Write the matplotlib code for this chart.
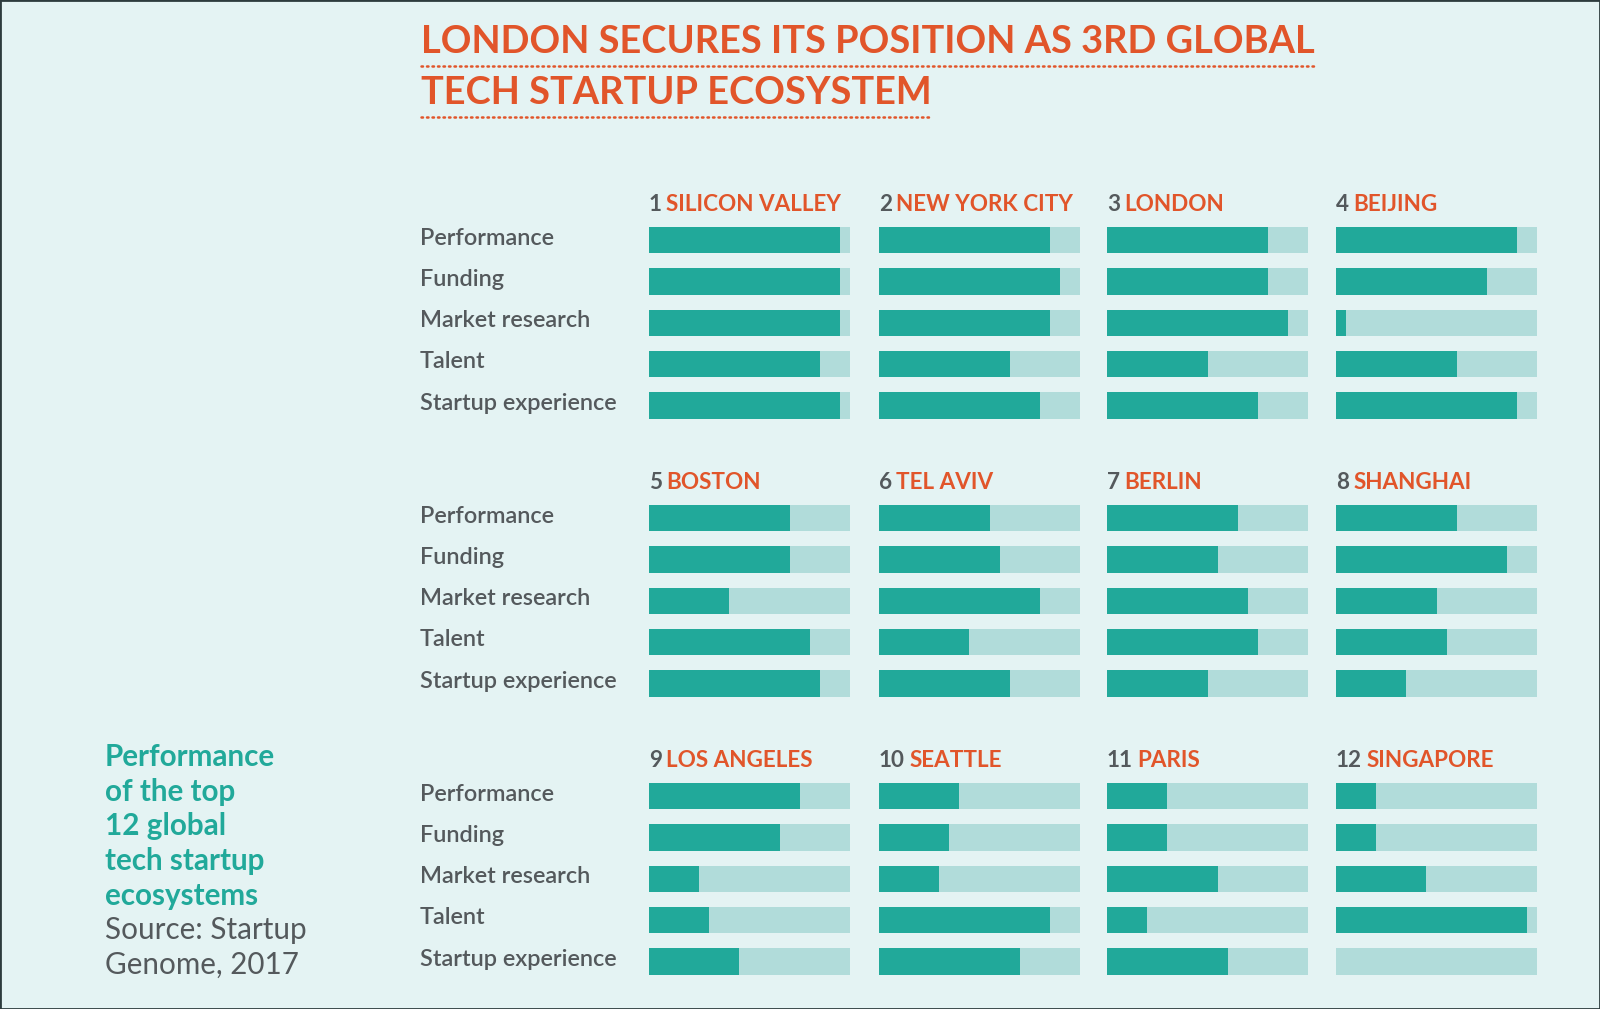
import matplotlib as mpl
mpl.use('Agg')
import matplotlib.pyplot as plt
import matplotlib.transforms as mtransforms
from matplotlib.patches import Rectangle

# data (scores out of 10)
metrics = ['Performance', 'Funding', 'Market research', 'Talent', 'Startup experience']
cities = ['SILICON VALLEY', 'NEW YORK CITY', 'LONDON', 'BEIJING',
          'BOSTON', 'TEL AVIV', 'BERLIN', 'SHANGHAI',
          'LOS ANGELES', 'SEATTLE', 'PARIS', 'SINGAPORE']
silicon_valley = [9.5, 9.5, 9.5, 8.5, 9.5]
new_york_city = [8.5, 9.0, 8.5, 6.5, 8.0]
london = [8.0, 8.0, 9.0, 5.0, 7.5]
beijing = [9.0, 7.5, 0.5, 6.0, 9.0]
boston = [7.0, 7.0, 4.0, 8.0, 8.5]
tel_aviv = [5.5, 6.0, 8.0, 4.5, 6.5]
berlin = [6.5, 5.5, 7.0, 7.5, 5.0]
shanghai = [6.0, 8.5, 5.0, 5.5, 3.5]
los_angeles = [7.5, 6.5, 2.5, 3.0, 4.5]
seattle = [4.0, 3.5, 3.0, 8.5, 7.0]
paris = [3.0, 3.0, 5.5, 2.0, 6.0]
singapore = [2.0, 2.0, 4.5, 9.5, 0.0]
scores = [silicon_valley, new_york_city, london, beijing, boston, tel_aviv,
          berlin, shanghai, los_angeles, seattle, paris, singapore]
max_score = 10

BG = '#e4f3f3'
TEAL = '#21a99a'
LIGHT = '#b1dcda'
ORANGE = '#e1552a'
GRAY = '#54595c'
FONT = 'Lato'

W, H = 1600, 1009
fig = plt.figure(figsize=(W / 100, H / 100), dpi=100, facecolor=BG)

def fx(px):
    return px / W

def fy(py):
    return 1 - py / H

# title
title_lines = ['LONDON SECURES ITS POSITION AS 3RD GLOBAL', 'TECH STARTUP ECOSYSTEM']
title_y = [42, 93]
renderer = fig.canvas.get_renderer()
for line, ty in zip(title_lines, title_y):
    t = fig.text(fx(421), fy(ty), line, color=ORANGE, fontsize=27.4, fontweight='bold',
                 family=FONT, va='center', ha='left')
    bb = t.get_window_extent(renderer)
    x0, x1 = bb.x0 / W, bb.x1 / W
    fig.add_artist(plt.Line2D([x0, x1], [fy(ty + 24)] * 2, color=ORANGE, lw=1.8,
                              linestyle=(0, (0.6, 1.6)), dash_capstyle='round',
                              transform=fig.transFigure))

# panels
col_x = [649, 879, 1107, 1336]
col_w = 201
row_top = [219.5, 497.5, 775.5]
row_pitch = 41.3
bar_h = 0.64
ypos = list(range(len(metrics)))

for i, (city, vals) in enumerate(zip(cities, scores)):
    r, c = divmod(i, 4)
    ax = fig.add_axes([fx(col_x[c]), fy(row_top[r] + 5 * row_pitch),
                       fx(col_w), 5 * row_pitch / H])
    ax.set_facecolor('none')
    ax.barh(ypos, [max_score] * len(vals), height=bar_h, color=LIGHT, lw=0)
    ax.barh(ypos, vals, height=bar_h, color=TEAL, lw=0)
    ax.set_xlim(0, max_score)
    ax.set_ylim(4.5, -0.5)
    ax.axis('off')
    num = ax.annotate(str(i + 1), xy=(0, 1), xycoords='axes fraction',
                      xytext=(0, 11), textcoords='offset points', ha='left', va='center',
                      color=GRAY, fontsize=16.2, fontweight='bold', family=FONT)
    ax.annotate(city, xy=(1, 0.5), xycoords=num, xytext=(3, 0), textcoords='offset points',
                ha='left', va='center', color=ORANGE, fontsize=16.2, fontweight='bold',
                family=FONT)
    if c == 0:
        tr = mtransforms.blended_transform_factory(fig.transFigure, ax.transData)
        for k, m in enumerate(metrics):
            ax.text(fx(420), k - 0.05, m, transform=tr, ha='left', va='center',
                    color=GRAY, fontsize=16.9, fontweight='semibold', family=FONT)

# side note
note_bold = ['Performance', 'of the top', '12 global', 'tech startup', 'ecosystems']
note_src = ['Source: Startup', 'Genome, 2017']
for k, s in enumerate(note_bold + note_src):
    bold = k < len(note_bold)
    fig.text(fx(105), fy(757 + 34.7 * k), s, ha='left', va='center',
             color=TEAL if bold else GRAY, fontweight='bold' if bold else 'normal',
             fontsize=21.3, family=FONT)

# thin frame
fig.add_artist(Rectangle((0, 0), 1, 1, transform=fig.transFigure, fill=False,
                         edgecolor='#2d3b3d', lw=2))

fig.savefig('out.png', dpi=100, facecolor=BG)
